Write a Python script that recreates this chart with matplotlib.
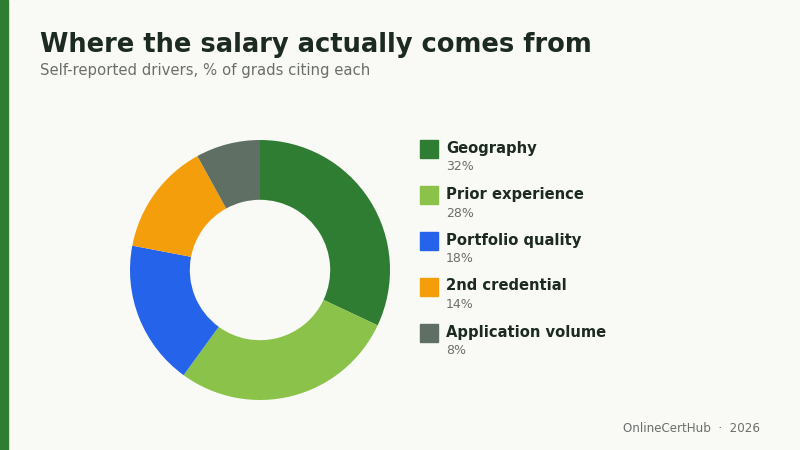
import matplotlib
matplotlib.use("Agg")
import matplotlib.pyplot as plt
from matplotlib.patches import Rectangle

plt.rcParams['font.family'] = ['DejaVu Sans']

categories = ["Geography", "Prior experience", "Portfolio quality", "2nd credential", "Application volume"]
values = [32, 28, 18, 14, 8]
colors = ["#2e7d32", "#8bc34a", "#2563eb", "#f59e0b", "#5f6f64"]

W, H = 800, 450
bg = "#f9f9f6"
fig = plt.figure(figsize=(8, 4.5), dpi=100, facecolor=bg)

def fx(x): return x / W
def fy(y): return 1 - y / H

fig.patches.append(Rectangle((0, 0), fx(8), 1, transform=fig.transFigure, color="#2e7d32"))
fig.text(fx(40), fy(45), "Where the salary actually comes from", fontsize=18.5, fontweight="bold",
         color="#1c2a22", va="center", ha="left")
fig.text(fx(40), fy(71), "Self-reported drivers, % of grads citing each", fontsize=10.7,
         color="#6b6f6b", va="center", ha="left")

ax = fig.add_axes([fx(130), fy(400), 260 / W, 260 / H])
ax.set_facecolor(bg)
ax.pie(values, colors=colors, startangle=90, counterclock=False, radius=1,
       wedgeprops=dict(width=0.46, edgecolor="none"))
ax.set_xlim(-1, 1)
ax.set_ylim(-1, 1)
ax.set_aspect("equal")
ax.axis("off")

for i, (c, v, col) in enumerate(zip(categories, values, colors)):
    y = 149 + i * 46
    fig.patches.append(Rectangle((fx(420), fy(y + 9)), 18 / W, 18 / H, transform=fig.transFigure, color=col))
    fig.text(fx(446), fy(y - 1), c, fontsize=10.6, fontweight="bold", color="#1c2a22", va="center", ha="left")
    fig.text(fx(446), fy(y + 18), f"{v}%", fontsize=9, color="#6b6f6b", va="center", ha="left")

fig.text(fx(760), fy(428), "OnlineCertHub  ·  2026", fontsize=8.6, color="#6b6f6b", va="center", ha="right")

fig.savefig("out.png", dpi=100, facecolor=bg)
